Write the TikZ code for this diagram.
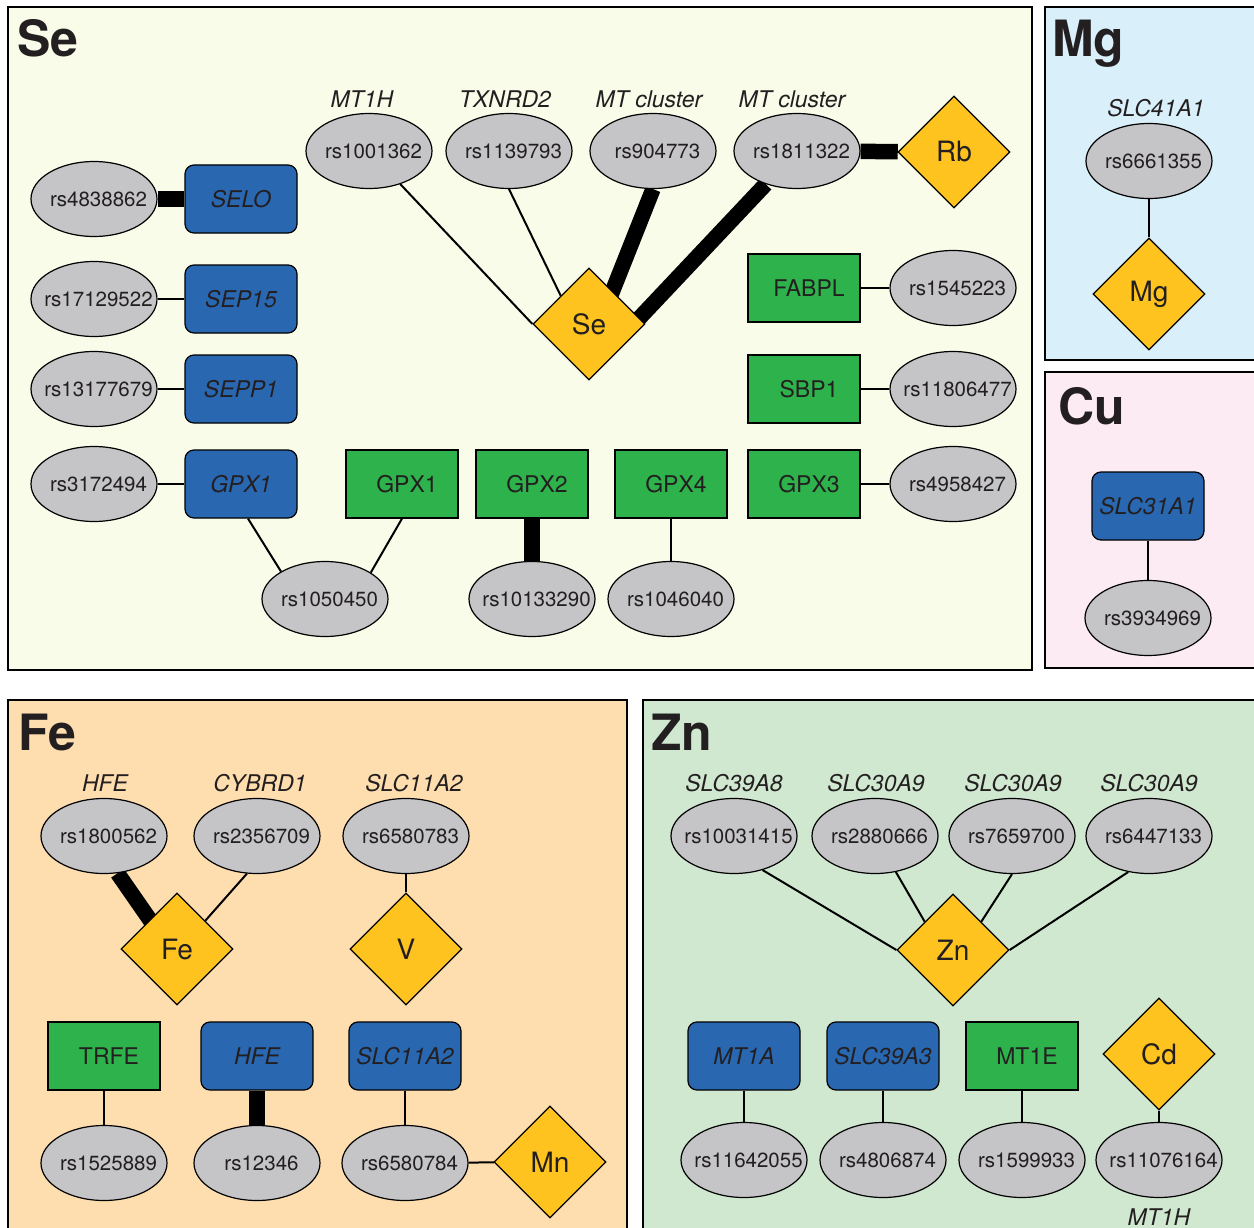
\documentclass[tikz,border=0pt]{standalone}
\usepackage{fontspec}
\setmainfont{TeX Gyre Heros}
\usetikzlibrary{shapes.geometric,calc}
\definecolor{txt}{HTML}{231F20}
\definecolor{snpgray}{HTML}{C5C5C7}
\definecolor{geneblue}{HTML}{2967B1}
\definecolor{protgreen}{HTML}{2EB24B}
\definecolor{elemyellow}{HTML}{FEC31F}
\definecolor{seBG}{HTML}{FAFCEA}
\definecolor{mgBG}{HTML}{D9EFFA}
\definecolor{cuBG}{HTML}{FCEBF3}
\definecolor{feBG}{HTML}{FEDEAF}
\definecolor{znBG}{HTML}{D0E8D0}
\pgfdeclarelayer{bg}
\pgfdeclarelayer{edgelayer}
\pgfsetlayers{bg,edgelayer,main}
\begin{document}
\begin{tikzpicture}[x=1pt,y=-1pt,
  snp/.style={ellipse, draw=black, line width=1.2pt, fill=snpgray,
    minimum width=126pt, minimum height=75pt, inner xsep=-25pt, inner ysep=0pt,
    font=\fontsize{20.5}{24}\selectfont, text=txt,
    execute at begin node={\hspace*{9pt}}},
  gene/.style={rectangle, rounded corners=9pt, draw=black, line width=1.2pt, fill=geneblue,
    minimum width=112pt, minimum height=68pt, inner sep=0pt,
    font=\fontsize{23}{27}\selectfont\itshape, text=txt},
  prot/.style={rectangle, draw=black, line width=1.2pt, fill=protgreen,
    minimum width=112pt, minimum height=68pt, inner sep=0pt,
    font=\fontsize{23}{27}\selectfont, text=txt,
    execute at begin node={\hspace*{10pt}}},
  elem/.style={diamond, draw=black, line width=1.2pt, fill=elemyellow,
    minimum width=112pt, minimum height=112pt, inner sep=0pt,
    font=\fontsize{28}{32}\selectfont, text=txt},
  lab/.style={font=\fontsize{23}{27}\selectfont\itshape, text=txt, inner sep=0pt},
  paneltitle/.style={font=\fontsize{50}{55}\selectfont\bfseries, text=txt, anchor=base west, inner sep=0pt},
  panelline/.style={draw=black, line width=2.5pt},
  weak/.style={draw=black, line width=2pt},
  strong/.style={draw=black, line width=15.5pt}
]
\useasboundingbox (0,0) rectangle (1254,1228);

% ---------- panels ----------
\begin{pgfonlayer}{bg}
  \fill[white] (0,0) rectangle (1254,1228);
  \fill[seBG] (8,7) rectangle (1032,670);
  \draw[panelline] (8,7) rectangle (1032,670);
  \fill[mgBG] (1045,7) rectangle (1254,360);
  \draw[panelline] (1256,7) -- (1045,7) -- (1045,360) -- (1256,360);
  \fill[cuBG] (1045,372) rectangle (1254,668);
  \draw[panelline] (1256,372) -- (1045,372) -- (1045,668) -- (1256,668);
  \fill[feBG] (8,700) rectangle (627,1228);
  \draw[panelline] (8,1230) -- (8,700) -- (627,700) -- (627,1230);
  \fill[znBG] (643,700) rectangle (1254,1228);
  \draw[panelline] (643,1230) -- (643,700) -- (1256,700);
\end{pgfonlayer}

\node[paneltitle] (tSe) at (17,57) {Se};
\node[paneltitle] (tMg) at (1052,57) {Mg};
\node[paneltitle] (tCu) at (1058,424) {Cu};
\node[paneltitle] (tFe) at (18,750) {Fe};
\node[paneltitle] (tZn) at (651,750) {Zn};

% ---------- Se panel ----------
\node[lab] (lMT1H) at (362,99) {MT1H};
\node[lab] (lTXNRD2) at (505,99) {TXNRD2};
\node[lab] (lMTc1) at (649,99) {MT cluster};
\node[lab] (lMTc2) at (792,99) {MT cluster};
\node[snp] (rs1001362) at (369,151) {rs1001362};
\node[snp] (rs1139793) at (509,151) {rs1139793};
\node[snp] (rs904773) at (653,151) {rs904773};
\node[snp] (rs1811322) at (797,151) {rs1811322};
\node[elem] (Rb) at (954,152) {Rb};
\node[elem] (Se) at (589,324) {Se};

\node[snp] (rs4838862) at (94,199) {rs4838862};
\node[gene] (SELO) at (241,199) {SELO};
\node[snp] (rs17129522) at (94,299) {rs17129522};
\node[gene] (SEP15) at (241,299) {SEP15};
\node[snp] (rs13177679) at (94,389) {rs13177679};
\node[gene] (SEPP1) at (241,389) {SEPP1};
\node[snp] (rs3172494) at (94,484) {rs3172494};
\node[gene] (gGPX1) at (241,484) {GPX1};
\node[prot, execute at begin node={}] (pGPX1) at (402,484) {GPX1};
\node[prot] (pGPX2) at (532,484) {GPX2};
\node[prot] (pGPX4) at (671,484) {GPX4};
\node[prot] (pGPX3) at (804,484) {GPX3};
\node[snp] (rs4958427) at (953,484) {rs4958427};
\node[prot] (FABPL) at (804,288) {FABPL};
\node[snp] (rs1545223) at (953,288) {rs1545223};
\node[prot] (SBP1) at (804,389) {SBP1};
\node[snp] (rs11806477) at (953,389) {rs11806477};
\node[snp] (rs1050450) at (325,599) {rs1050450};
\node[snp] (rs10133290) at (532,599) {rs10133290};
\node[snp] (rs1046040) at (671,599) {rs1046040};

% ---------- Mg panel ----------
\node[lab] (lSLC41A1) at (1156,108) {SLC41A1};
\node[snp] (rs6661355) at (1149,161) {rs6661355};
\node[elem] (Mg) at (1149,294) {Mg};

% ---------- Cu panel ----------
\node[gene] (SLC31A1) at (1148,506) {SLC31A1};
\node[snp] (rs3934969) at (1148,618) {rs3934969};

% ---------- Fe panel ----------
\node[lab] (lHFE) at (105,783) {HFE};
\node[lab] (lCYBRD1) at (260,783) {CYBRD1};
\node[lab] (lSLC11A2) at (414,783) {SLC11A2};
\node[snp] (rs1800562) at (104,836) {rs1800562};
\node[snp] (rs2356709) at (257,836) {rs2356709};
\node[snp] (rs6580783) at (406,836) {rs6580783};
\node[elem] (Fe) at (177,949) {Fe};
\node[elem] (V) at (406,949) {V};
\node[prot] (TRFE) at (104,1056) {TRFE};
\node[gene] (HFE) at (257,1056) {HFE};
\node[gene] (SLC11A2) at (405,1056) {SLC11A2};
\node[snp] (rs1525889) at (104,1163) {rs1525889};
\node[snp] (rs12346) at (257,1163) {rs12346};
\node[snp] (rs6580784) at (405,1163) {rs6580784};
\node[elem] (Mn) at (550,1162) {Mn};

% ---------- Zn panel ----------
\node[lab] (lSLC39A8) at (734,783) {SLC39A8};
\node[lab] (lSLC30A9a) at (876,783) {SLC30A9};
\node[lab] (lSLC30A9b) at (1013,783) {SLC30A9};
\node[lab] (lSLC30A9c) at (1149,783) {SLC30A9};
\node[snp] (rs10031415) at (734,836) {rs10031415};
\node[snp] (rs2880666) at (875,836) {rs2880666};
\node[snp] (rs7659700) at (1012,836) {rs7659700};
\node[snp] (rs6447133) at (1149,836) {rs6447133};
\node[elem] (Zn) at (953,950) {Zn};
\node[gene] (MT1A) at (744,1056) {MT1A};
\node[gene] (SLC39A3) at (883,1056) {SLC39A3};
\node[prot] (MT1E) at (1022,1056) {MT1E};
\node[elem] (Cd) at (1159,1054) {Cd};
\node[snp] (rs11642055) at (744,1160) {rs11642055};
\node[snp] (rs4806874) at (883,1160) {rs4806874};
\node[snp] (rs1599933) at (1022,1160) {rs1599933};
\node[snp] (rs11076164) at (1159,1160) {rs11076164};
\node[lab] (lMT1H2) at (1159,1217) {MT1H};

% ---------- edges ----------
\begin{pgfonlayer}{edgelayer}
  % Se
  \draw[weak] (rs1001362) -- (Se.west);
  \draw[weak] (rs1139793.south) -- (Se.north west);
  \draw[strong] (rs904773.south) -- ($(Se)+(18,-19)$);
  \draw[strong] (rs1811322) -- ($(Se)+(41,4)$);
  \draw[strong] (rs1811322) -- (Rb);
  \draw[strong] (rs4838862) -- (SELO);
  \draw[weak] (rs17129522) -- (SEP15);
  \draw[weak] (rs13177679) -- (SEPP1);
  \draw[weak] (rs3172494) -- (gGPX1);
  \draw[weak] ([xshift=7pt]gGPX1.south) -- (rs1050450.148);
  \draw[weak] (pGPX1.south) -- (rs1050450.30);
  \draw[strong] (pGPX2) -- (rs10133290);
  \draw[weak] (pGPX4) -- (rs1046040);
  \draw[weak] (pGPX3) -- (rs4958427);
  \draw[weak] (FABPL) -- (rs1545223);
  \draw[weak] (SBP1) -- (rs11806477);
  % Mg, Cu
  \draw[weak] (rs6661355) -- (Mg);
  \draw[weak] (SLC31A1) -- (rs3934969);
  % Fe
  \draw[strong] (rs1800562.-70) -- ($(Fe)+(-20,-19)$);
  \draw[weak] (rs2356709.-105) -- (Fe.north east);
  \draw[weak] (rs6580783) -- (V);
  \draw[weak] (TRFE) -- (rs1525889);
  \draw[strong] (HFE) -- (rs12346);
  \draw[weak] (SLC11A2) -- (rs6580784);
  \draw[weak] (rs6580784) -- (Mn);
  % Zn
  \draw[weak] (rs10031415.-50) -- (Zn.west);
  \draw[weak] (rs2880666) -- (Zn.north west);
  \draw[weak] (rs7659700.south) -- (Zn.north east);
  \draw[weak] (rs6447133.-120) -- (Zn.east);
  \draw[weak] (MT1A) -- (rs11642055);
  \draw[weak] (SLC39A3) -- (rs4806874);
  \draw[weak] (MT1E) -- (rs1599933);
  \draw[weak] (Cd) -- (rs11076164);
\end{pgfonlayer}
\end{tikzpicture}
\end{document}
